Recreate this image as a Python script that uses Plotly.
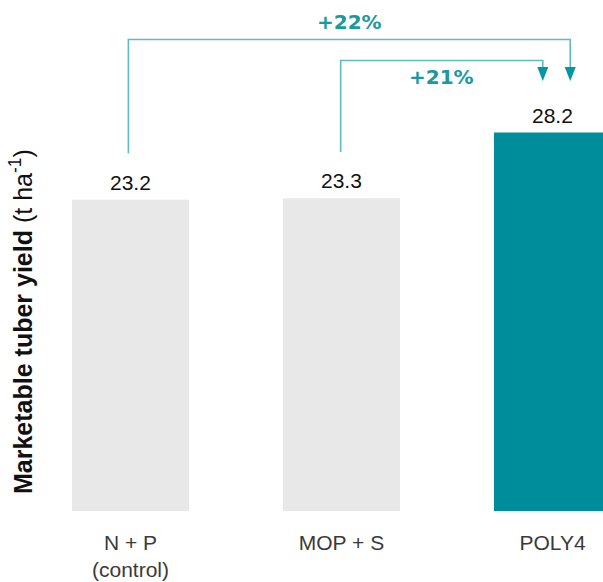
import plotly.graph_objects as go

categories = ["N + P<br>(control)", "MOP + S", "POLY4"]
values = [23.2, 23.3, 28.2]
value_labels = ["23.2", "23.3", "28.2"]
increase_labels = ["+22%", "+21%"]
bar_colors = ["#E8E8E8", "#E8E8E8", "#008D9B"]

x = list(range(len(categories)))
PX_PER_UNIT = 13.42
PLOT_H = 511
W, H = 603, 582

fig = go.Figure()
fig.add_trace(go.Bar(x=x, y=values, marker=dict(color=bar_colors, line=dict(width=0)),
                     width=117/211, hoverinfo="skip"))

# value labels
for xi, v, t in zip(x, values, value_labels):
    fig.add_annotation(x=xi, y=v, text=t, showarrow=False, yanchor="bottom", yshift=4,
                       font=dict(family="Liberation Sans, Arial", size=21, color="#111111"))

LINE_C = "#5DBCC3"
HEAD_C = "#0097A2"
TXT_C = "#1A99A1"
# brackets: (from index, to index, x offsets, top level)
brackets = [
    (0, 2, -0.010, 0.084, 35.13),
    (1, 2, -0.004, -0.046, 33.57),
]
tip_y = values[2] + 3.84
head_h = 14 / PX_PER_UNIT
for (i0, i1, o0, o1, top) in brackets:
    y0 = values[i0] + 3.46
    xa, xb = x[i0] + o0, x[i1] + o1
    fig.add_shape(type="path", xref="x", yref="y",
                  path=f"M {xa},{y0} L {xa},{top} L {xb},{top} L {xb},{tip_y + head_h*0.9}",
                  line=dict(color=LINE_C, width=1.6))
    fig.add_shape(type="path", xref="x", yref="y", xsizemode="pixel", ysizemode="pixel",
                  xanchor=xb, yanchor=tip_y, path="M -5.5,14 L 5.5,14 L 0,0 Z",
                  fillcolor=HEAD_C, line=dict(width=0))

# percent labels
fig.add_annotation(x=(349-130.5)/211, y=(PLOT_H-21.7)/PX_PER_UNIT, text=f"<b>{increase_labels[0]}</b>",
                   showarrow=False, font=dict(family="DejaVu Sans", size=20, color=TXT_C))
fig.add_annotation(x=(441.7-130.5)/211, y=(PLOT_H-77)/PX_PER_UNIT, text=f"<b>{increase_labels[1]}</b>",
                   showarrow=False, font=dict(family="DejaVu Sans", size=20, color=TXT_C))

# y title
fig.add_annotation(xref="paper", yref="paper", x=3/W, y=(PLOT_H-322)/PLOT_H, textangle=-90,
                   text="<b>Marketable tuber yield</b> (t ha<sup>-1</sup>)", showarrow=False,
                   font=dict(family="Liberation Sans, Arial", size=25, color="#111111"))

fig.update_layout(
    width=W, height=H, margin=dict(l=0, r=0, t=0, b=H-PLOT_H),
    plot_bgcolor="white", paper_bgcolor="white", showlegend=False,
    xaxis=dict(range=[-130.5/211, (W-130.5)/211], tickvals=x, ticktext=categories,
               showgrid=False, zeroline=False, showline=False, ticks="",
               ticklabelstandoff=17, automargin=False,
               tickfont=dict(family="Liberation Sans, Arial", size=21, color="#3a3a3a")),
    yaxis=dict(range=[0, PLOT_H/PX_PER_UNIT], visible=False, automargin=False),
)
fig.write_html("out.html")
